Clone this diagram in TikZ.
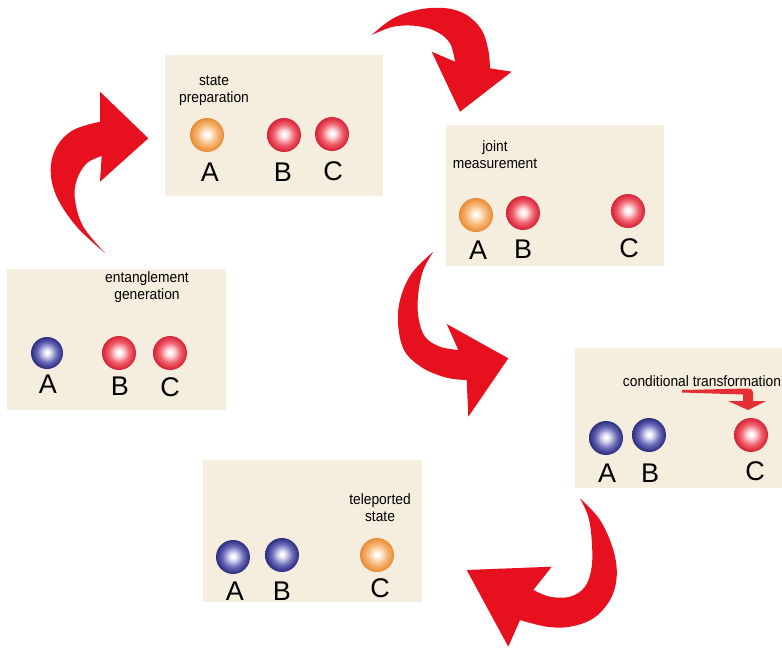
\documentclass[tikz,border=0pt]{standalone}
\usepackage{fontspec}
\setmainfont{Liberation Sans}
\newfontfamily\capfont[FakeStretch=0.92]{Liberation Sans}
\definecolor{panelbg}{RGB}{245,237,222}
\definecolor{arrowred}{RGB}{230,16,30}
\definecolor{smallred}{RGB}{228,48,52}
\definecolor{redhi}{RGB}{252,205,210}
\definecolor{redmid}{RGB}{240,100,112}
\definecolor{redrim}{RGB}{224,50,68}
\definecolor{reddark}{RGB}{206,38,60}
\definecolor{orghi}{RGB}{252,228,200}
\definecolor{orgmid}{RGB}{246,182,118}
\definecolor{orgrim}{RGB}{238,152,70}
\definecolor{orgdark}{RGB}{226,138,54}
\definecolor{bluhi}{RGB}{205,205,235}
\definecolor{blumid}{RGB}{110,110,186}
\definecolor{blurim}{RGB}{60,60,146}
\definecolor{bludark}{RGB}{46,46,124}
\pgfdeclareradialshading{ballred}{\pgfpoint{0bp}{1bp}}{color(0bp)=(white); color(2bp)=(white); color(7bp)=(redhi); color(15bp)=(redmid); color(22bp)=(redrim); color(25bp)=(reddark); color(50bp)=(reddark)}
\pgfdeclareradialshading{ballorange}{\pgfpoint{0bp}{1bp}}{color(0bp)=(white); color(2bp)=(white); color(7bp)=(orghi); color(15bp)=(orgmid); color(22bp)=(orgrim); color(25bp)=(orgdark); color(50bp)=(orgdark)}
\pgfdeclareradialshading{ballblue}{\pgfpoint{0bp}{1bp}}{color(0bp)=(white); color(2bp)=(white); color(7bp)=(bluhi); color(15bp)=(blumid); color(22bp)=(blurim); color(25bp)=(bludark); color(50bp)=(bludark)}
\tikzset{
  panel/.style={fill=panelbg, draw=none},
  ballnode/.style={circle, inner sep=0pt, minimum size=34pt, shade},
  redb/.style={ballnode, shading=ballred},
  orgb/.style={ballnode, shading=ballorange},
  blub/.style={ballnode, shading=ballblue},
  letter/.style={anchor=base, inner sep=0pt, font=\fontsize{27}{30}\selectfont},
  caption/.style={anchor=base, inner sep=0pt, align=center, font=\capfont\fontsize{15}{17}\selectfont},
  bigarrow/.style={fill=arrowred, draw=none},
}
\begin{document}
\begin{tikzpicture}[x=1pt,y=-1pt]
\useasboundingbox (0,0) rectangle (782,649);
\fill[white] (0,0) rectangle (782,649);

% panels
\fill[panel] (165,55) rectangle (383,196);
\fill[panel] (446,125) rectangle (664,266);
\fill[panel] (7,269) rectangle (226,410);
\fill[panel] (575,348) rectangle (782,488);
\fill[panel] (203,460) rectangle (422,602);

% state preparation
\node[caption] (t1) at (214,102) {state\\preparation};
\node[orgb] (s1a) at (207,135) {};
\node[redb] (s1b) at (284,135) {};
\node[redb] (s1c) at (332,134) {};
\node[letter] (l1a) at (210,181) {A};
\node[letter] (l1b) at (283,181) {B};
\node[letter] (l1c) at (333,180) {C};

% joint measurement
\node[caption] (t2) at (495,168) {joint\\measurement};
\node[orgb] (s2a) at (476,215) {};
\node[redb] (s2b) at (523,213) {};
\node[redb] (s2c) at (628,211) {};
\node[letter] (l2a) at (478,259) {A};
\node[letter] (l2b) at (523,258) {B};
\node[letter] (l2c) at (629,257) {C};

% entanglement generation
\node[caption] (t3) at (147,299) {entanglement\\generation};
\node[blub, minimum size=32pt] (s3a) at (47,353) {};
\node[redb] (s3b) at (119,353) {};
\node[redb] (s3c) at (170,353) {};
\node[letter] (l3a) at (48,393) {A};
\node[letter] (l3b) at (120,395) {B};
\node[letter] (l3c) at (170,396) {C};

% conditional transformation
\node[caption] (t4) at (702,386) {conditional transformation};
\node[blub] (s4a) at (606,438) {};
\node[blub] (s4b) at (649,435) {};
\node[redb] (s4c) at (751,435) {};
\node[letter] (l4a) at (607,482) {A};
\node[letter] (l4b) at (650,482) {B};
\node[letter] (l4c) at (755,480) {C};
\fill[smallred] (682,390) -- (748,388.5) .. controls (751,388.5) and (753,390) .. (753,392.5) -- (753,401) -- (766,401) -- (748,410) -- (728,401) -- (743,401) -- (743,394.5) -- (682,392.5) -- cycle;

% teleported state
\node[caption] (t5) at (380,521) {teleported\\state};
\node[blub] (s5a) at (233,557) {};
\node[blub] (s5b) at (282,555) {};
\node[orgb] (s5c) at (377,555) {};
\node[letter] (l5a) at (235,600) {A};
\node[letter] (l5b) at (282,600) {B};
\node[letter] (l5c) at (380,597) {C};

% big arrows
% entanglement -> state preparation
\fill[bigarrow] plot[smooth, tension=0.6] coordinates {(105,253) (76.7,226.7) (56.7,196.7) (50.7,170) (56.7,146.7) (73.3,130) (100,121.7)}
  -- (100,91.7) -- (148.3,138.3) -- (100,181.7) -- (101.7,156)
  -- plot[smooth, tension=0.6] coordinates {(101.7,156) (86.7,163.3) (76.7,180) (75,200) (83.3,226.7) (105,253)} -- cycle;
% state preparation -> joint measurement
\fill[bigarrow] plot[smooth, tension=0.6] coordinates {(371.7,35) (393.3,18.3) (420,9.3) (446.7,8.3) (466.7,15) (481.7,30) (488.3,50) (490,68.3)}
  -- (511.7,71.7) -- (460,111.7) -- (431.7,51.7) -- (455,61.7)
  -- plot[smooth, tension=0.6] coordinates {(455,61.7) (450,43.3) (436.7,31.7) (416.7,26) (393.3,26.7) (371.7,35)} -- cycle;
% joint measurement -> conditional transformation
\fill[bigarrow] plot[smooth, tension=0.6] coordinates {(433.3,251.7) (411.7,273.3) (400,300) (398.3,326.7) (405,351.7) (423.3,368.3) (446.7,377.7) (466.7,380)}
  -- (468.3,416.7) -- (508.3,358.3) -- (446.7,324) -- (458.3,350)
  -- plot[smooth, tension=0.6] coordinates {(458.3,350) (440,346.7) (425,336.7) (418.3,316.7) (418.3,293.3) (423.3,270) (433.3,251.7)} -- cycle;
% conditional transformation -> teleported state
\fill[bigarrow] plot[smooth, tension=0.6] coordinates {(580,498.3) (600,520) (613.3,550) (616.7,576.7) (610,600) (593.3,618.3) (570,626.7) (546.7,626.7) (520,620)}
  -- (508.3,646.7) -- (466.7,570) -- (551.7,566.7) -- (533.3,590)
  -- plot[smooth, tension=0.6] coordinates {(533.3,590) (550,596.7) (570,596.7) (585,586.7) (591.7,566.7) (591.7,540) (588.3,516.7) (580,498.3)} -- cycle;
\end{tikzpicture}
\end{document}
